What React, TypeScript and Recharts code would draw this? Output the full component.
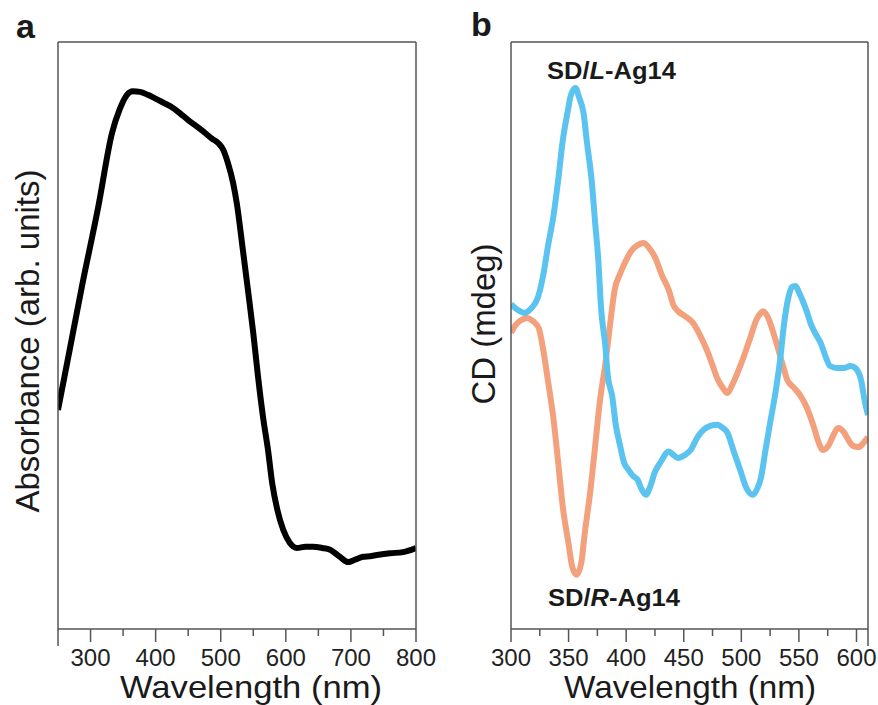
import { Customized, Line, LineChart, XAxis, YAxis } from "recharts";

// panel a: UV-vis absorbance (arb. units)
const absWavelength = [250, 268, 287, 312, 333, 345, 356, 365, 376, 388, 399, 413, 425, 437, 450, 462, 476, 487, 496, 504, 511, 519, 525, 534, 542, 550, 557, 565, 573, 579, 587, 596, 606, 617, 630, 642, 656, 668, 683, 696, 706, 719, 729, 740, 760, 780, 800];
const absValue = [37.3, 47.6, 58.5, 72.0, 84.5, 88.6, 91.0, 91.6, 91.5, 91.0, 90.4, 89.6, 88.9, 87.9, 86.7, 85.7, 84.5, 83.5, 82.8, 81.6, 79.4, 76.0, 72.3, 64.6, 57.6, 50.4, 43.3, 36.1, 30.2, 24.9, 20.3, 16.9, 14.7, 13.8, 14.0, 14.0, 13.8, 13.5, 12.3, 11.4, 11.8, 12.3, 12.4, 12.6, 12.9, 13.1, 13.8];

// panel b: CD spectra (mdeg, relative)
const cdLWavelength = [300, 306, 312, 317, 324, 328, 332, 337, 341, 345, 349, 352, 356, 359, 363, 366, 370, 373, 376, 378, 382, 384, 388, 391, 395, 398, 402, 406, 410, 413, 417, 421, 425, 430, 437, 441, 445, 451, 456, 462, 467, 473, 479, 484, 488, 493, 499, 504, 510, 514, 517, 521, 525, 530, 534, 537, 541, 544, 547, 550, 553, 557, 560, 564, 569, 573, 577, 583, 589, 595, 599, 604, 607, 610];
const cdL = [10.7, 8.7, 7.7, 9.0, 13.8, 20.6, 30.2, 41.1, 53.0, 66.6, 75.8, 81.9, 84.3, 81.3, 75.8, 65.6, 53.0, 38.7, 24.7, 10.4, -3.9, -13.5, -21.0, -30.5, -38.0, -43.1, -45.8, -47.9, -49.2, -52.0, -54.3, -51.3, -46.5, -43.1, -39.5, -40.7, -41.7, -40.7, -39.0, -34.6, -32.2, -30.8, -30.4, -31.5, -33.2, -39.0, -45.8, -51.6, -54.3, -52.0, -48.6, -39.0, -29.8, -18.6, -7.3, 3.6, 13.1, 16.5, 16.9, 14.8, 12.1, 8.0, 4.3, 0.9, -2.6, -7.0, -10.4, -11.1, -11.1, -10.4, -11.1, -15.2, -22.0, -27.1];
const cdRWavelength = [300, 304, 309, 314, 319, 324, 328, 332, 337, 341, 345, 350, 353, 357, 361, 364, 369, 373, 377, 382, 386, 390, 395, 400, 405, 410, 415, 420, 425, 431, 437, 441, 445, 451, 458, 464, 470, 475, 479, 484, 488, 492, 497, 502, 508, 513, 517, 519, 523, 527, 531, 536, 540, 545, 551, 557, 563, 567, 571, 576, 580, 584, 589, 593, 597, 602, 606, 610];
const cdR = [0.9, 3.6, 5.3, 6.0, 4.9, 2.6, -4.9, -15.2, -28.8, -43.4, -58.5, -71.0, -78.5, -81.5, -77.5, -67.5, -52.6, -38.0, -23.0, -9.4, 3.6, 15.5, 21.3, 25.7, 29.1, 30.8, 31.5, 29.8, 26.7, 20.6, 15.5, 10.4, 8.3, 6.6, 4.3, 0.2, -4.9, -10.1, -14.5, -17.9, -19.6, -16.9, -12.4, -7.3, -0.5, 5.3, 7.7, 8.3, 6.3, 1.9, -3.2, -10.1, -15.2, -17.5, -20.3, -24.7, -31.2, -36.3, -39.0, -37.3, -33.9, -31.5, -32.9, -35.6, -37.6, -38.0, -36.6, -34.6];

const absTicks = [250, 300, 350, 400, 450, 500, 550, 600, 650, 700, 750, 800];
const cdTicks = [300, 325, 350, 375, 400, 425, 450, 475, 500, 525, 550, 575, 600, 610];

const FONT = "'Liberation Sans', Arial, Helvetica, sans-serif";
const AXIS = "#555";
const BLUE = "#5bc3ef";
const ORANGE = "#f3a07c";

const absData = absWavelength.map((w, i) => ({ w, v: absValue[i] }));
const lData = cdLWavelength.map((w, i) => ({ w, v: cdL[i] }));
const rData = cdRWavelength.map((w, i) => ({ w, v: cdR[i] }));

function makeTick(isMajor: (v: number) => boolean, isLabel: (v: number) => boolean, edge: number) {
  return ({ x, y, payload }: any) => {
    const v = payload.value;
    const len = v === edge ? 17 : isMajor(v) ? 13 : 7;
    return (
      <g>
        <line x1={x} x2={x} y1={y} y2={y + len} stroke={AXIS} strokeWidth={1.5} />
        {isLabel(v) && (
          <text x={x} y={y + 37} textAnchor="middle" fontSize={24} fontFamily={FONT} fill="#222">
            {v}
          </text>
        )}
      </g>
    );
  };
}

const tickA = makeTick((v) => v % 100 === 0 || v === 250, (v) => v % 100 === 0, 250);
const tickB = makeTick((v) => v % 50 === 0 || v === 610, (v) => v % 50 === 0, 610);

const textStyle = { fontFamily: FONT, fill: "#1a1a1a" };

function LabelsA() {
  return (
    <g>
      <text x={16} y={38} fontSize={34} fontWeight="bold" {...textStyle}>a</text>
      <text x={39} y={341} transform="rotate(-90 39 341)" textAnchor="middle" fontSize={33} textLength={343} lengthAdjust="spacingAndGlyphs" {...textStyle}>
        Absorbance (arb. units)
      </text>
      <text x={251} y={698} textAnchor="middle" fontSize={32} textLength={262} lengthAdjust="spacingAndGlyphs" {...textStyle}>
        Wavelength (nm)
      </text>
    </g>
  );
}

function LabelsB() {
  return (
    <g>
      <text x={31} y={36} fontSize={34} fontWeight="bold" {...textStyle}>b</text>
      <text x={55} y={324} transform="rotate(-90 55 324)" textAnchor="middle" fontSize={33} textLength={161} lengthAdjust="spacingAndGlyphs" {...textStyle}>
        CD (mdeg)
      </text>
      <text x={250} y={698} textAnchor="middle" fontSize={32} textLength={252} lengthAdjust="spacingAndGlyphs" {...textStyle}>
        Wavelength (nm)
      </text>
      <text x={107} y={79} fontSize={24} fontWeight="bold" textLength={129} lengthAdjust="spacingAndGlyphs" {...textStyle}>
        SD/<tspan fontStyle="italic">L</tspan>-Ag14
      </text>
      <text x={108} y={606} fontSize={24} fontWeight="bold" textLength={132} lengthAdjust="spacingAndGlyphs" {...textStyle}>
        SD/<tspan fontStyle="italic">R</tspan>-Ag14
      </text>
    </g>
  );
}

function frame(domainX: [number, number], domainY: [number, number]) {
  return [
    <XAxis key="t" xAxisId="t" orientation="top" type="number" domain={domainX} height={1} tick={false} tickLine={false} stroke={AXIS} strokeWidth={1.5} allowDataOverflow />,
    <YAxis key="l" type="number" domain={domainY} width={1} tick={false} tickLine={false} stroke={AXIS} strokeWidth={1.5} allowDataOverflow />,
    <YAxis key="r" yAxisId="r" orientation="right" type="number" domain={domainY} width={1} tick={false} tickLine={false} stroke={AXIS} strokeWidth={1.5} allowDataOverflow />,
  ];
}

export default function App() {
  return (
    <div style={{ position: "absolute", left: 0, top: 0, width: 878, height: 705, background: "#fff" }}>
      <div style={{ position: "absolute", left: 0, top: 0 }}>
        <LineChart width={440} height={705} margin={{ top: 41, right: 23, bottom: 46, left: 57 }}>
          <XAxis
            dataKey="w"
            type="number"
            domain={[250, 800]}
            ticks={absTicks}
            interval={0}
            height={30}
            tickSize={0}
            tickMargin={0}
            tick={tickA}
            stroke={AXIS}
            strokeWidth={1.5}
            allowDataOverflow
          />
          {frame([250, 800], [0, 100])}
          <Line data={absData} dataKey="v" type="monotone" stroke="#000" strokeWidth={6} dot={false} isAnimationActive={false} />
          <Customized component={LabelsA} />
        </LineChart>
      </div>
      <div style={{ position: "absolute", left: 440, top: 0 }}>
        <LineChart width={438} height={705} margin={{ top: 41, right: 9, bottom: 46, left: 70 }}>
          <XAxis
            dataKey="w"
            type="number"
            domain={[300, 610]}
            ticks={cdTicks}
            interval={0}
            height={30}
            tickSize={0}
            tickMargin={0}
            tick={tickB}
            stroke={AXIS}
            strokeWidth={1.5}
            allowDataOverflow
          />
          {frame([300, 610], [-100, 100])}
          <Line data={rData} dataKey="v" type="monotone" stroke={ORANGE} strokeWidth={6} dot={false} isAnimationActive={false} />
          <Line data={lData} dataKey="v" type="monotone" stroke={BLUE} strokeWidth={6} dot={false} isAnimationActive={false} />
          <Customized component={LabelsB} />
        </LineChart>
      </div>
    </div>
  );
}
